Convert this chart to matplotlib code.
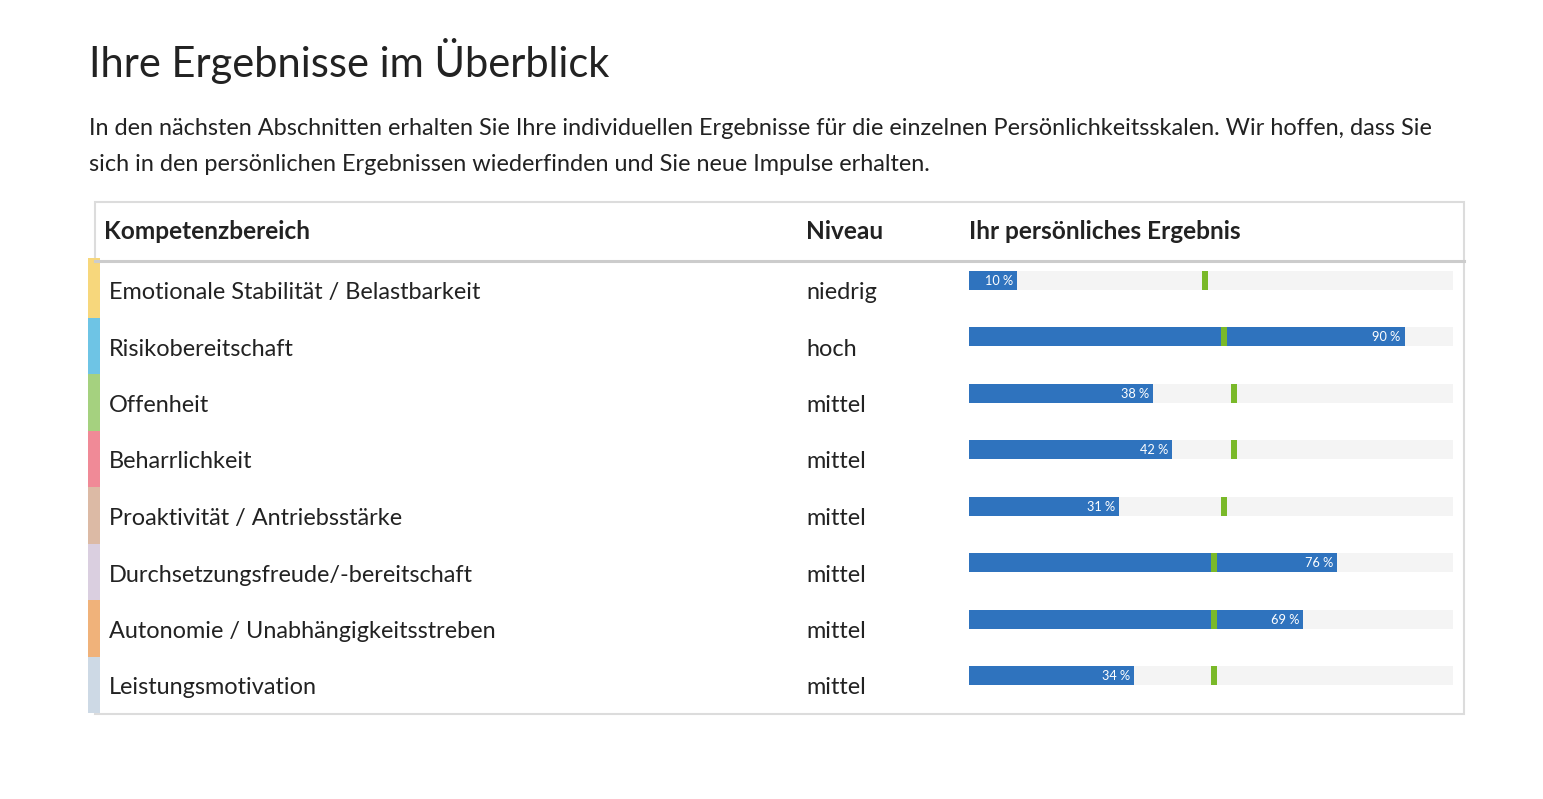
import matplotlib.pyplot as plt
from matplotlib.patches import Rectangle

plt.rcParams['font.family'] = ['Lato', 'DejaVu Sans']

# Daten
bereiche = [
    "Emotionale Stabilität / Belastbarkeit",
    "Risikobereitschaft",
    "Offenheit",
    "Beharrlichkeit",
    "Proaktivität / Antriebsstärke",
    "Durchsetzungsfreude/-bereitschaft",
    "Autonomie / Unabhängigkeitsstreben",
    "Leistungsmotivation",
]
niveaus = ["niedrig", "hoch", "mittel", "mittel", "mittel", "mittel", "mittel", "mittel"]
ergebnisse = [10, 90, 38, 42, 31, 76, 69, 34]
referenz = [48.7, 52.7, 54.8, 54.8, 52.7, 50.6, 50.6, 50.6]
streifen_farben = ["#f7d77c", "#6ec4e5", "#a5d17f", "#f08a97",
                   "#dcbaa5", "#dacfe0", "#f0b27a", "#cdd9e5"]

titel = "Ihre Ergebnisse im Überblick"
absatz = ["In den nächsten Abschnitten erhalten Sie Ihre individuellen Ergebnisse für die einzelnen "
          "Persönlichkeitsskalen. Wir hoffen, dass Sie",
          "sich in den persönlichen Ergebnissen wiederfinden und Sie neue Impulse erhalten."]
kopf = ["Kompetenzbereich", "Niveau", "Ihr persönliches Ergebnis"]

TEXT = "#222222"
W, H = 1543, 799
fig = plt.figure(figsize=(W / 100, H / 100), dpi=100)
ax = fig.add_axes([0, 0, 1, 1])
ax.set_xlim(0, W)
ax.set_ylim(H, 0)
ax.axis("off")

# Titel und Text
ax.text(89, 77, titel, fontsize=30, color=TEXT, va="baseline")
ax.text(89, 135, absatz[0], fontsize=16.9, color=TEXT, va="baseline")
ax.text(89, 171, absatz[1], fontsize=16.9, color=TEXT, va="baseline")

# Tabellenrahmen
ax.add_patch(Rectangle((95, 202), 1464 - 95, 714 - 202, fill=False,
                       edgecolor="#dcdcdc", lw=1.5))
ax.plot([95, 1464], [260.5, 260.5], color="#cccccc", lw=2.2)

for x, t in zip([104, 806, 969], kopf):
    ax.text(x, 239, t, fontsize=17.6, fontweight="bold", color=TEXT, va="baseline")

zeile_oben = 261
zeile_h = 56.5
for i, (name, niv, farbe) in enumerate(zip(bereiche, niveaus, streifen_farben)):
    top = zeile_oben + i * zeile_h
    y0 = top - 3 if i == 0 else top
    ax.add_patch(Rectangle((88, y0), 12, top + zeile_h - y0, color=farbe, lw=0))
    ax.text(109, top + 38, name, fontsize=16.9, color=TEXT, va="baseline")
    ax.text(806, top + 38, niv, fontsize=16.9, color=TEXT, va="baseline")

# Balken
bx = fig.add_axes([969 / W, 1 - 713 / H, 484 / W, (713 - 261) / H])
bx.set_xlim(0, 100)
bx.set_ylim(8, 0)
bx.axis("off")
pos = [i + 19 / zeile_h for i in range(len(ergebnisse))]
h = 19 / zeile_h
bx.barh(pos, [100] * len(pos), height=h, color="#f4f4f4", lw=0)
bx.barh(pos, ergebnisse, height=h, color="#2f73be", lw=0)
bx.barh(pos, [1.25] * len(pos), left=[r - 0.62 for r in referenz], height=h,
        color="#7ab929", lw=0)
for p, v in zip(pos, ergebnisse):
    bx.text(v - 0.8, p + 0.01, f"{v} %", ha="right", va="center",
            color="white", fontsize=9.2)

fig.savefig("out.png", dpi=100)
